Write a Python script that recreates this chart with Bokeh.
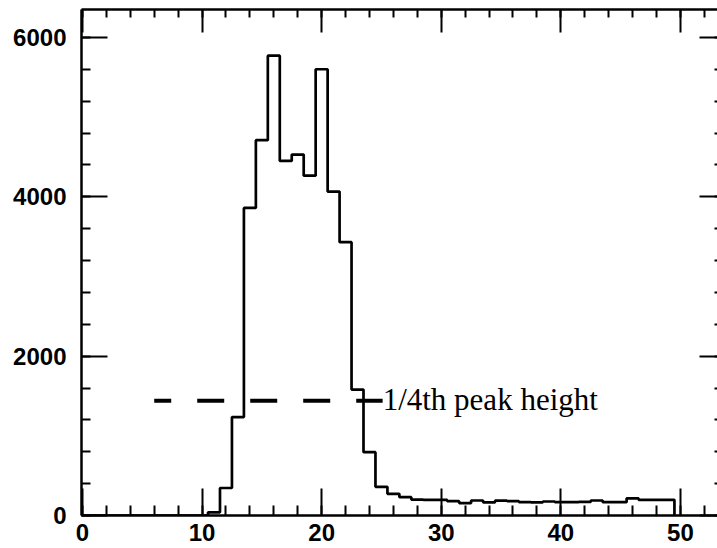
from bokeh.plotting import figure
from bokeh.models import Range1d, LinearAxis, FixedTicker, Label, CustomLabelingPolicy
from bokeh.embed import file_html
from bokeh.resources import INLINE

# histogram bins (centres, width 1) and counts
bin_centers = [11, 12, 13, 14, 15, 16, 17, 18, 19, 20, 21, 22, 23, 24, 25, 26, 27, 28, 29, 30,
               31, 32, 33, 34, 35, 36, 37, 38, 39, 40, 41, 42, 43, 44, 45, 46, 47, 48, 49]
counts = [40, 345, 1235, 3860, 4710, 5770, 4450, 4530, 4265, 5600, 4065, 3430, 1580, 795, 360,
          272, 230, 200, 196, 195, 180, 156, 188, 165, 186, 180, 167, 165, 176, 167, 167, 170,
          188, 167, 167, 216, 197, 197, 197]

x_major = [0, 10, 20, 30, 40, 50]
x_minor = [0, 2, 4, 6, 8, 10, 12, 14, 16, 18, 20, 22, 24, 26, 28, 30, 32, 34, 36, 38, 40,
           42, 44, 46, 48, 50, 52]
y_major = [0, 2000, 4000, 6000]
y_minor = [0, 400, 800, 1200, 1600, 2000, 2400, 2800, 3200, 3600, 4000, 4400, 4800, 5200,
           5600, 6000]

quarter_level = 1440          # 1/4 of the peak height
quarter_x = [6, 25.1]
note = "1/4th peak height"

# step outline: start at 0, step up at each left edge, drop to 0 at the last right edge
half = 0.5
step_x = [0] + [c - half for c in bin_centers] + [bin_centers[-1] + half]
step_y = [0] + counts + [0]

p = figure(width=717, height=548, output_backend="svg", toolbar_location=None,
           x_range=Range1d(-0.08, 53.1), y_range=Range1d(0, 6350),
           min_border_left=81, min_border_right=0, min_border_top=9, min_border_bottom=33)
p.grid.visible = False
p.outline_line_color = None
p.background_fill_color = "white"
p.border_fill_color = "white"

lab_font = "Liberation Sans"
no_labels = CustomLabelingPolicy(code="return new Set()")

def style(ax, major_in, minor_in, labels=True, line=True):
    ax.major_tick_in = major_in
    ax.major_tick_out = 0
    ax.minor_tick_in = minor_in
    ax.minor_tick_out = 0
    ax.major_tick_line_width = 2
    ax.minor_tick_line_width = 2
    ax.major_tick_line_color = "black"
    ax.minor_tick_line_color = "black"
    if line:
        ax.axis_line_width = 2.5
        ax.axis_line_color = "black"
    else:
        ax.axis_line_color = None
    if labels:
        ax.major_label_text_font = lab_font
        ax.major_label_text_font_style = "bold"
        ax.major_label_text_font_size = "24px"
        ax.major_label_text_color = "black"
    else:
        ax.major_label_text_font_size = "0px"
        ax.major_label_standoff = 0
        ax.major_label_policy = no_labels

xb = p.xaxis[0]
xb.ticker = FixedTicker(ticks=x_major, minor_ticks=x_minor)
style(xb, 27, 10)
xb.major_label_standoff = 8

yl = p.yaxis[0]
yl.ticker = FixedTicker(ticks=y_major, minor_ticks=y_minor)
style(yl, 26, 9)
yl.major_label_standoff = 15

xt = LinearAxis(ticker=FixedTicker(ticks=x_major, minor_ticks=x_minor))
style(xt, 23, 8, labels=False)
p.add_layout(xt, "above")

yr = LinearAxis(ticker=FixedTicker(ticks=y_major, minor_ticks=y_minor))
style(yr, 18, 3, labels=False, line=False)
p.add_layout(yr, "right")

p.step(x=step_x, y=step_y, mode="after", line_color="black", line_width=2.7)

p.line(x=quarter_x, y=[quarter_level, quarter_level], line_color="black", line_width=4,
       line_dash="27 26", line_dash_offset=10)

p.add_layout(Label(x=quarter_x[1], y=1450, text=note, text_font="Liberation Serif",
                   text_font_size="31px", text_color="black", text_baseline="alphabetic",
                   text_align="left"))

open("out.html", "w").write(file_html(p, INLINE))
